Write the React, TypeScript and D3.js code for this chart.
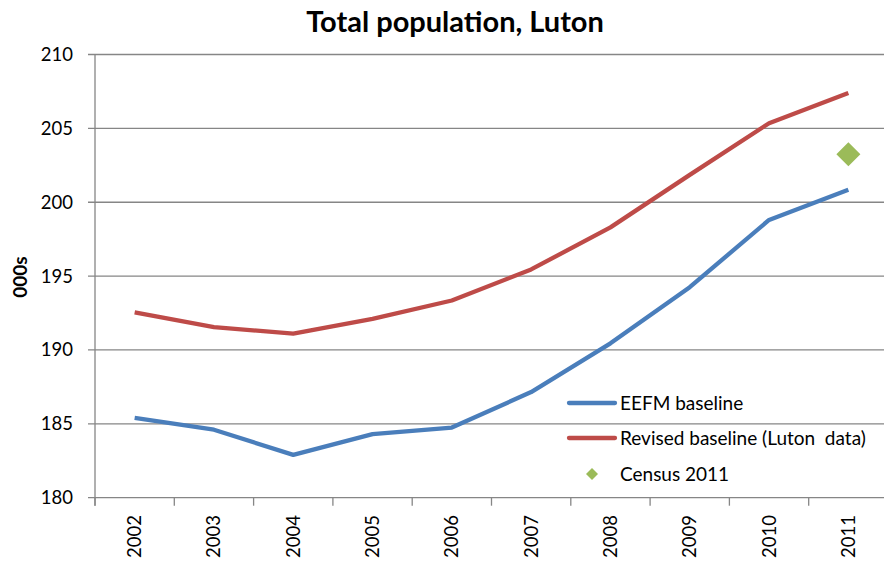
import React from "react";
import * as d3 from "d3";

const years = ["2002", "2003", "2004", "2005", "2006", "2007", "2008", "2009", "2010", "2011"];
const eefm = [185.4, 184.6, 182.9, 184.3, 184.75, 187.15, 190.45, 194.25, 198.8, 200.85];
const revised = [192.55, 191.55, 191.1, 192.1, 193.35, 195.45, 198.3, 201.85, 205.35, 207.4];
const censusYear = "2011";
const censusValue = 203.25;
const yTicks = [180, 185, 190, 195, 200, 205, 210];
const seriesNames = ["EEFM baseline", "Revised baseline (Luton  data)", "Census 2011"];

const W = 884, H = 561;
const FONT = "Lato, 'Open Sans', sans-serif";

export default function App() {
  const left = 95, right = 888, top = 54.5, bottom = 497.7;
  const x = d3.scaleBand().domain(years).range([left, right]);
  const y = d3.scaleLinear().domain([180, 210]).range([bottom, top]);
  const cx = (d: string) => (x(d) as number) + x.bandwidth() / 2;
  const line = d3.line<number>().x((_, i) => cx(years[i])).y((v) => y(v));
  const grid = "#868686";
  const ticksX = [...years.map((d) => x(d) as number), right];
  const diamond = (px: number, py: number, r: number) =>
    `M${px},${py - r}L${px + r},${py}L${px},${py + r}L${px - r},${py}Z`;
  const lx1 = 569, lx2 = 615, ltx = 620;
  const legY = [403, 438, 474];
  return (
    <svg width={W} height={H} style={{ position: "absolute", left: 0, top: 0 }}>
      <rect width={W} height={H} fill="#fff" />
      <text x={455} y={32} textAnchor="middle" fontFamily={FONT} fontWeight="bold" fontSize={29}>
        Total population, Luton
      </text>
      {yTicks.map((t) => (
        <g key={t}>
          <line x1={88} x2={right} y1={y(t)} y2={y(t)} stroke={grid} strokeWidth={1.3} />
          <text x={73} y={y(t) + 6.5} textAnchor="end" fontFamily={FONT} fontSize={18.5}>
            {t}
          </text>
        </g>
      ))}
      <line x1={left} x2={left} y1={top} y2={bottom + 8} stroke={grid} strokeWidth={1.3} />
      {ticksX.map((t, i) => (
        <line key={i} x1={t} x2={t} y1={bottom} y2={bottom + 8} stroke={grid} strokeWidth={1.3} />
      ))}
      {years.map((d) => (
        <text
          key={d}
          transform={`translate(${cx(d) + 6.5},${515}) rotate(-90)`}
          textAnchor="end"
          fontFamily={FONT}
          fontSize={18.5}
        >
          {d}
        </text>
      ))}
      <text
        transform={`translate(${27},${277}) rotate(-90)`}
        textAnchor="middle"
        fontFamily={FONT}
        fontWeight="bold"
        fontSize={19}
      >
        000s
      </text>
      <path d={line(eefm) || ""} fill="none" stroke="#4a7ebb" strokeWidth={4.3} strokeLinejoin="round" />
      <path d={line(revised) || ""} fill="none" stroke="#be4b48" strokeWidth={4.3} strokeLinejoin="round" />
      <path d={diamond(cx(censusYear), y(censusValue), 12)} fill="#9bbb59" />
      <line x1={lx1} x2={lx2} y1={legY[0]} y2={legY[0]} stroke="#4a7ebb" strokeWidth={4.3} strokeLinecap="round" />
      <line x1={lx1} x2={lx2} y1={legY[1]} y2={legY[1]} stroke="#be4b48" strokeWidth={4.3} strokeLinecap="round" />
      <path d={diamond(592, legY[2], 6)} fill="#9bbb59" />
      {seriesNames.map((s, i) => (
        <text key={s} x={ltx} y={legY[i] + 6.5} fontFamily={FONT} fontSize={19} style={{ whiteSpace: "pre" }}>
          {s}
        </text>
      ))}
    </svg>
  );
}
